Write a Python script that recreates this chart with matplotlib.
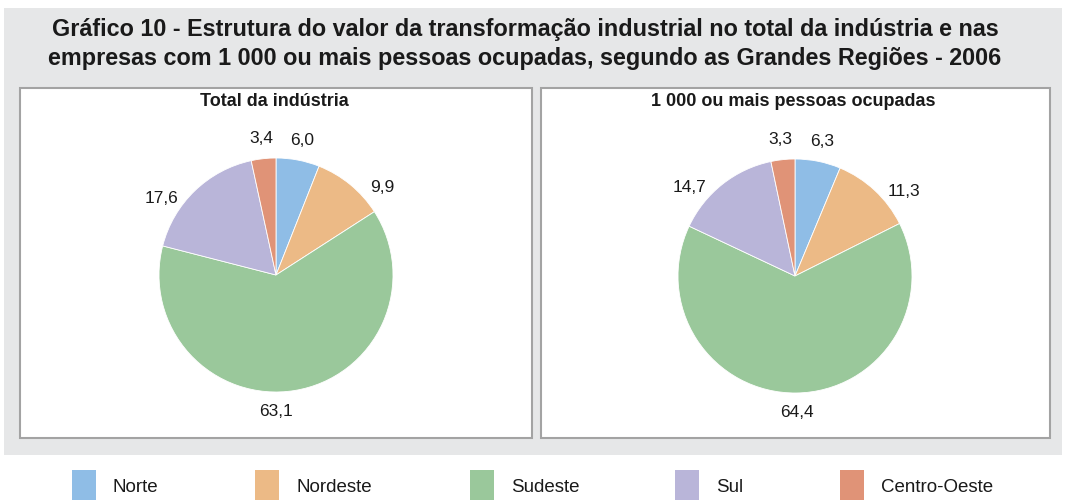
import numpy as np
import matplotlib
matplotlib.use('Agg')
import matplotlib.pyplot as plt
from matplotlib.patches import Rectangle

plt.rcParams['font.family'] = ['Liberation Sans', 'DejaVu Sans']

regioes = ['Norte', 'Nordeste', 'Sudeste', 'Sul', 'Centro-Oeste']
cores = ['#8fbde6', '#ecba86', '#9ac89b', '#b9b5d9', '#e09377']
total = [6.0, 9.9, 63.1, 17.6, 3.4]
grandes = [6.3, 11.3, 64.4, 14.7, 3.3]
titulos = ['Total da indústria', '1 000 ou mais pessoas ocupadas']
titulo = ('Gráfico 10 - Estrutura do valor da transformação industrial no total da indústria e nas\n'
          'empresas com 1 000 ou mais pessoas ocupadas, segundo as Grandes Regiões - 2006')

# ajuste manual do angulo dos rotulos (graus), como no original
ajuste_rot = [[0, -11, -9, 12, 0], [0, -9, 0, 11.5, 0]]

W, H = 1065, 500
fig = plt.figure(figsize=(W / 100, H / 100), dpi=100)
fig.patch.set_facecolor('white')

def px(x, y, w, h):
    # pixel box (top-left origin) -> figure fraction
    return (x / W, 1 - (y + h) / H, w / W, h / H)

bx = px(4, 8, 1058, 447)
fig.patches.append(Rectangle(bx[:2], bx[2], bx[3], transform=fig.transFigure,
                             facecolor='#e6e7e8', edgecolor='none', zorder=0))
for x0, x1 in [(20, 532), (541, 1050)]:
    b = px(x0, 88, x1 - x0, 350)
    fig.patches.append(Rectangle(b[:2], b[2], b[3], transform=fig.transFigure,
                                 facecolor='white', edgecolor='#a3a3a3', lw=1.5, zorder=1))

fig.text(525 / W, 1 - 44 / H, titulo, ha='center', va='center', fontsize=16.8,
         fontweight='bold', linespacing=1.3, color='#1a1a1a')

centros = [(276, 275), (795, 276)]
r = 117
for (cx, cy), vals, t, aj in zip(centros, [total, grandes], titulos, ajuste_rot):
    ax = fig.add_axes(px(cx - r, cy - r, 2 * r, 2 * r), zorder=3)
    ax.patch.set_visible(False)
    wedges, _ = ax.pie(vals, colors=cores, startangle=90, counterclock=False,
                       wedgeprops=dict(edgecolor='white', linewidth=0.6))
    ax.set_xlim(-1, 1)
    ax.set_ylim(-1, 1)
    ax.set_aspect('equal')
    ax.axis('off')
    for w, v, a in zip(wedges, vals, aj):
        ang = np.deg2rad((w.theta1 + w.theta2) / 2 + a)
        ax.text(1.18 * np.cos(ang), 1.17 * np.sin(ang), f'{v:.1f}'.replace('.', ','),
                ha='center', va='center', fontsize=12.5, color='#1a1a1a', clip_on=False)
    fig.text((cx - 2) / W, 1 - 102 / H, t, ha='center', va='center', fontsize=13,
             fontweight='bold', color='#1a1a1a', zorder=3)

leg_x = [72, 255, 470, 675, 840]
for x, nome, c in zip(leg_x, regioes, cores):
    b = px(x, 470, 24, 30)
    fig.patches.append(Rectangle(b[:2], b[2], b[3], transform=fig.transFigure,
                                 facecolor=c, edgecolor='none'))
    fig.text((x + 41) / W, 1 - 487 / H, nome, ha='left', va='center', fontsize=13.5,
             color='#1a1a1a')

fig.savefig('out.png', dpi=100, facecolor='white')
